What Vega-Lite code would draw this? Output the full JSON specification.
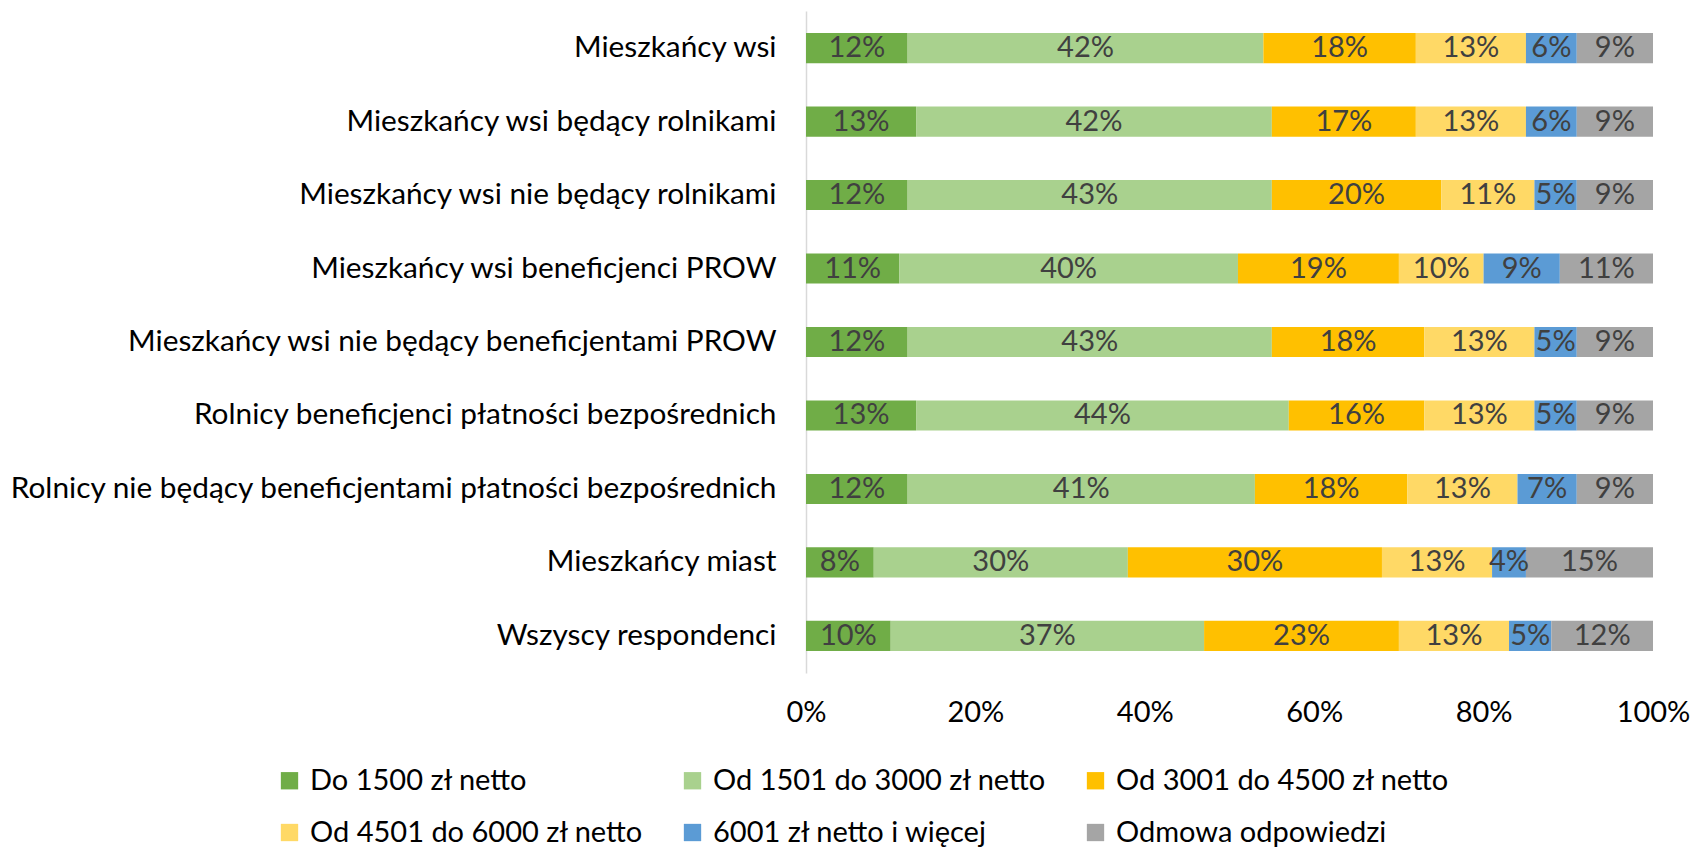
{
  "$schema": "https://vega.github.io/schema/vega-lite/v6.json",
  "width": 847,
  "height": 662,
  "autosize": {"type": "none"},
  "padding": {"left": 806, "top": 11, "right": 37, "bottom": 174},
  "background": "white",
  "config": {
    "view": {"stroke": null},
    "font": "Lato",
    "text": {"font": "Lato"}
  },
  "data": {
    "values": [
      {"g": "Mieszkańcy wsi", "c": "Do 1500 zł netto", "k": 1, "v": 12},
      {"g": "Mieszkańcy wsi", "c": "Od 1501 do 3000 zł netto", "k": 2, "v": 42},
      {"g": "Mieszkańcy wsi", "c": "Od 3001 do 4500 zł netto", "k": 3, "v": 18},
      {"g": "Mieszkańcy wsi", "c": "Od 4501 do 6000 zł netto", "k": 4, "v": 13},
      {"g": "Mieszkańcy wsi", "c": "6001 zł netto i więcej", "k": 5, "v": 6},
      {"g": "Mieszkańcy wsi", "c": "Odmowa odpowiedzi", "k": 6, "v": 9},
      {"g": "Mieszkańcy wsi będący rolnikami", "c": "Do 1500 zł netto", "k": 1, "v": 13},
      {"g": "Mieszkańcy wsi będący rolnikami", "c": "Od 1501 do 3000 zł netto", "k": 2, "v": 42},
      {"g": "Mieszkańcy wsi będący rolnikami", "c": "Od 3001 do 4500 zł netto", "k": 3, "v": 17},
      {"g": "Mieszkańcy wsi będący rolnikami", "c": "Od 4501 do 6000 zł netto", "k": 4, "v": 13},
      {"g": "Mieszkańcy wsi będący rolnikami", "c": "6001 zł netto i więcej", "k": 5, "v": 6},
      {"g": "Mieszkańcy wsi będący rolnikami", "c": "Odmowa odpowiedzi", "k": 6, "v": 9},
      {"g": "Mieszkańcy wsi nie będący rolnikami", "c": "Do 1500 zł netto", "k": 1, "v": 12},
      {"g": "Mieszkańcy wsi nie będący rolnikami", "c": "Od 1501 do 3000 zł netto", "k": 2, "v": 43},
      {"g": "Mieszkańcy wsi nie będący rolnikami", "c": "Od 3001 do 4500 zł netto", "k": 3, "v": 20},
      {"g": "Mieszkańcy wsi nie będący rolnikami", "c": "Od 4501 do 6000 zł netto", "k": 4, "v": 11},
      {"g": "Mieszkańcy wsi nie będący rolnikami", "c": "6001 zł netto i więcej", "k": 5, "v": 5},
      {"g": "Mieszkańcy wsi nie będący rolnikami", "c": "Odmowa odpowiedzi", "k": 6, "v": 9},
      {"g": "Mieszkańcy wsi beneficjenci PROW", "c": "Do 1500 zł netto", "k": 1, "v": 11},
      {"g": "Mieszkańcy wsi beneficjenci PROW", "c": "Od 1501 do 3000 zł netto", "k": 2, "v": 40},
      {"g": "Mieszkańcy wsi beneficjenci PROW", "c": "Od 3001 do 4500 zł netto", "k": 3, "v": 19},
      {"g": "Mieszkańcy wsi beneficjenci PROW", "c": "Od 4501 do 6000 zł netto", "k": 4, "v": 10},
      {"g": "Mieszkańcy wsi beneficjenci PROW", "c": "6001 zł netto i więcej", "k": 5, "v": 9},
      {"g": "Mieszkańcy wsi beneficjenci PROW", "c": "Odmowa odpowiedzi", "k": 6, "v": 11},
      {"g": "Mieszkańcy wsi nie będący beneficjentami PROW", "c": "Do 1500 zł netto", "k": 1, "v": 12},
      {"g": "Mieszkańcy wsi nie będący beneficjentami PROW", "c": "Od 1501 do 3000 zł netto", "k": 2, "v": 43},
      {"g": "Mieszkańcy wsi nie będący beneficjentami PROW", "c": "Od 3001 do 4500 zł netto", "k": 3, "v": 18},
      {"g": "Mieszkańcy wsi nie będący beneficjentami PROW", "c": "Od 4501 do 6000 zł netto", "k": 4, "v": 13},
      {"g": "Mieszkańcy wsi nie będący beneficjentami PROW", "c": "6001 zł netto i więcej", "k": 5, "v": 5},
      {"g": "Mieszkańcy wsi nie będący beneficjentami PROW", "c": "Odmowa odpowiedzi", "k": 6, "v": 9},
      {"g": "Rolnicy beneficjenci płatności bezpośrednich", "c": "Do 1500 zł netto", "k": 1, "v": 13},
      {"g": "Rolnicy beneficjenci płatności bezpośrednich", "c": "Od 1501 do 3000 zł netto", "k": 2, "v": 44},
      {"g": "Rolnicy beneficjenci płatności bezpośrednich", "c": "Od 3001 do 4500 zł netto", "k": 3, "v": 16},
      {"g": "Rolnicy beneficjenci płatności bezpośrednich", "c": "Od 4501 do 6000 zł netto", "k": 4, "v": 13},
      {"g": "Rolnicy beneficjenci płatności bezpośrednich", "c": "6001 zł netto i więcej", "k": 5, "v": 5},
      {"g": "Rolnicy beneficjenci płatności bezpośrednich", "c": "Odmowa odpowiedzi", "k": 6, "v": 9},
      {"g": "Rolnicy nie będący beneficjentami płatności bezpośrednich", "c": "Do 1500 zł netto", "k": 1, "v": 12},
      {"g": "Rolnicy nie będący beneficjentami płatności bezpośrednich", "c": "Od 1501 do 3000 zł netto", "k": 2, "v": 41},
      {"g": "Rolnicy nie będący beneficjentami płatności bezpośrednich", "c": "Od 3001 do 4500 zł netto", "k": 3, "v": 18},
      {"g": "Rolnicy nie będący beneficjentami płatności bezpośrednich", "c": "Od 4501 do 6000 zł netto", "k": 4, "v": 13},
      {"g": "Rolnicy nie będący beneficjentami płatności bezpośrednich", "c": "6001 zł netto i więcej", "k": 5, "v": 7},
      {"g": "Rolnicy nie będący beneficjentami płatności bezpośrednich", "c": "Odmowa odpowiedzi", "k": 6, "v": 9},
      {"g": "Mieszkańcy miast", "c": "Do 1500 zł netto", "k": 1, "v": 8},
      {"g": "Mieszkańcy miast", "c": "Od 1501 do 3000 zł netto", "k": 2, "v": 30},
      {"g": "Mieszkańcy miast", "c": "Od 3001 do 4500 zł netto", "k": 3, "v": 30},
      {"g": "Mieszkańcy miast", "c": "Od 4501 do 6000 zł netto", "k": 4, "v": 13},
      {"g": "Mieszkańcy miast", "c": "6001 zł netto i więcej", "k": 5, "v": 4},
      {"g": "Mieszkańcy miast", "c": "Odmowa odpowiedzi", "k": 6, "v": 15},
      {"g": "Wszyscy respondenci", "c": "Do 1500 zł netto", "k": 1, "v": 10},
      {"g": "Wszyscy respondenci", "c": "Od 1501 do 3000 zł netto", "k": 2, "v": 37},
      {"g": "Wszyscy respondenci", "c": "Od 3001 do 4500 zł netto", "k": 3, "v": 23},
      {"g": "Wszyscy respondenci", "c": "Od 4501 do 6000 zł netto", "k": 4, "v": 13},
      {"g": "Wszyscy respondenci", "c": "6001 zł netto i więcej", "k": 5, "v": 5},
      {"g": "Wszyscy respondenci", "c": "Odmowa odpowiedzi", "k": 6, "v": 12}
    ]
  },
  "transform": [
    {"stack": "v", "groupby": ["g"], "sort": [{"field": "k", "order": "ascending"}], "as": ["x0", "x1"]},
    {"calculate": "(datum.x0 + datum.x1) / 2", "as": "xm"},
    {"calculate": "datum.v + '%'", "as": "lbl"}
  ],
  "encoding": {
    "y": {
      "field": "g",
      "type": "nominal",
      "sort": null,
      "scale": {"paddingInner": 0.59, "paddingOuter": 0.3},
      "axis": {
        "title": null,
        "ticks": false,
        "domain": true,
        "domainColor": "#D9D9D9",
        "domainWidth": 1.5,
        "labelFont": "Lato",
        "labelFontSize": 29.8,
        "labelColor": "#000000",
        "labelPadding": 30,
        "labelLimit": 900
      }
    }
  },
  "layer": [
    {
      "mark": {"type": "bar"},
      "encoding": {
        "x": {
          "field": "x0",
          "type": "quantitative",
          "scale": {"domain": [0, 100]},
          "axis": {
            "title": null,
            "values": [0, 20, 40, 60, 80, 100],
            "labelExpr": "datum.value + '%'",
            "grid": false,
            "ticks": false,
            "domain": false,
            "labelFont": "Lato",
            "labelFontSize": 29,
            "labelColor": "#000000",
            "labelPadding": 25,
            "labelFlush": false
          }
        },
        "x2": {"field": "x1"},
        "color": {
          "field": "c",
          "type": "nominal",
          "sort": ["Do 1500 zł netto", "Od 1501 do 3000 zł netto", "Od 3001 do 4500 zł netto", "Od 4501 do 6000 zł netto", "6001 zł netto i więcej", "Odmowa odpowiedzi"],
          "scale": {
            "domain": ["Do 1500 zł netto", "Od 1501 do 3000 zł netto", "Od 3001 do 4500 zł netto", "Od 4501 do 6000 zł netto", "6001 zł netto i więcej", "Odmowa odpowiedzi"],
            "range": ["#70AD47", "#A9D18E", "#FFC000", "#FFD966", "#5B9BD5", "#A5A5A5"]
          },
          "legend": {
            "title": null,
            "orient": "none",
            "legendX": -531,
            "legendY": 755,
            "direction": "horizontal",
            "columns": 3,
            "gridAlign": "all",
            "columnPadding": 34,
            "rowPadding": 22,
            "symbolType": "square",
            "symbolSize": 300,
            "symbolStrokeWidth": 0,
            "labelFont": "Lato",
            "labelFontSize": 29,
            "labelColor": "#000000",
            "labelLimit": 500,
            "labelOffset": 6
          }
        }
      }
    },
    {
      "mark": {"type": "text", "fontSize": 29, "font": "Lato", "color": "#404040", "align": "center", "baseline": "middle"},
      "encoding": {
        "x": {"field": "xm", "type": "quantitative"},
        "text": {"field": "lbl"}
      }
    }
  ]
}
